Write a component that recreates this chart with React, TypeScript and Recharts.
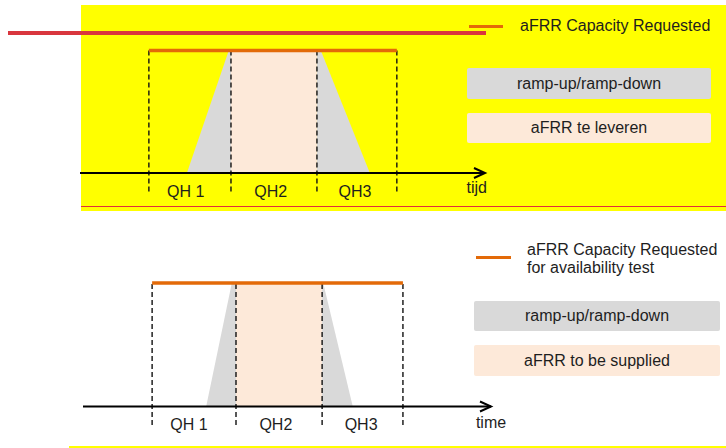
import React from 'react';
import { ComposedChart, Area, Line, XAxis, YAxis, ReferenceLine, ReferenceDot } from 'recharts';

const FONT = '"Liberation Sans", Arial, Helvetica, sans-serif';
const ORANGE = '#E36A08';
const GRAY = '#D9D9D9';
const PINK = '#FDE9D9';
const TEXT = '#1e1e1e';

// ---- top panel (Dutch) : time in minutes, power in % of requested capacity
const topBoundaries = [0, 14.9, 30.5, 45];
const topCapacity = [{ t: 0, v: 100 }, { t: 45, v: 100 }];
const topRampUp = [{ t: 6.9, v: 0 }, { t: 14.5, v: 100 }, { t: 14.9, v: 100 }];
const topDelivery = [{ t: 14.9, v: 100 }, { t: 30.5, v: 100 }];
const topRampDown = [{ t: 30.5, v: 100 }, { t: 31.2, v: 100 }, { t: 40.1, v: 0 }];
const topTickLabels = ['QH 1', 'QH2', 'QH3'];
const topTickPos = [6.7, 22.1, 37.4];
const topAxisTitle = 'tijd';
const topLegend = ['aFRR Capacity Requested', 'ramp-up/ramp-down', 'aFRR te leveren'];

// ---- bottom panel (English)
const botBoundaries = [0, 15.05, 30.5, 45];
const botCapacity = [{ t: 0, v: 100 }, { t: 45, v: 100 }];
const botRampUp = [{ t: 9.7, v: 0 }, { t: 14.3, v: 100 }, { t: 15.05, v: 100 }];
const botDelivery = [{ t: 15.05, v: 100 }, { t: 30.5, v: 100 }];
const botRampDown = [{ t: 30.5, v: 100 }, { t: 30.7, v: 100 }, { t: 36.0, v: 0 }];
const botTickLabels = ['QH 1', 'QH2', 'QH3'];
const botTickPos = [6.6, 22.2, 37.5];
const botAxisTitle = 'time';
const botLegend = ['aFRR Capacity Requested', 'for availability test', 'ramp-up/ramp-down', 'aFRR to be supplied'];

const Y_DOMAIN: [number, number] = [-20, 104];

const Arrow = (p: any) => (
  <path
    d={`M${p.cx - 11},${p.cy - 5} L${p.cx},${p.cy} L${p.cx - 11},${p.cy + 5}`}
    fill="none"
    stroke="#000"
    strokeWidth={2}
  />
);

type PanelProps = {
  margin: { top: number; right: number; bottom: number; left: number };
  xDomain: [number, number];
  boundaries: number[];
  capacity: { t: number; v: number }[];
  rampUp: { t: number; v: number }[];
  delivery: { t: number; v: number }[];
  rampDown: { t: number; v: number }[];
  tickLabels: string[];
  tickPos: number[];
  tickY: number;
  axisTitle: string;
  axisTitleX: number;
  axisTitleY: number;
};

function Panel(p: PanelProps) {
  return (
    <ComposedChart width={726} height={224} margin={p.margin} style={{ fontFamily: FONT }}>
      <XAxis type="number" dataKey="t" domain={p.xDomain} allowDataOverflow hide />
      <YAxis type="number" dataKey="v" domain={Y_DOMAIN} allowDataOverflow hide />
      <Area data={p.rampUp} dataKey="v" type="linear" stroke="none" fill={GRAY} fillOpacity={1} baseValue={0} isAnimationActive={false} dot={false} activeDot={false} />
      <Area data={p.delivery} dataKey="v" type="linear" stroke="none" fill={PINK} fillOpacity={1} baseValue={0} isAnimationActive={false} dot={false} activeDot={false} />
      <Area data={p.rampDown} dataKey="v" type="linear" stroke="none" fill={GRAY} fillOpacity={1} baseValue={0} isAnimationActive={false} dot={false} activeDot={false} />
      {p.boundaries.map((b) => (
        <ReferenceLine
          key={b}
          segment={[{ x: b, y: -15 }, { x: b, y: 100 }]}
          stroke="#111"
          strokeWidth={1.4}
          strokeDasharray="5 3"
        />
      ))}
      <ReferenceLine y={0} stroke="#000" strokeWidth={2} />
      <ReferenceDot x={p.xDomain[1]} y={0} shape={Arrow} />
      <Line data={p.capacity} dataKey="v" type="linear" stroke={ORANGE} strokeWidth={3.5} dot={false} activeDot={false} isAnimationActive={false} />
      {p.tickLabels.map((l, i) => (
        <ReferenceDot
          key={l}
          x={p.tickPos[i]}
          y={p.tickY}
          r={0}
          fill="none"
          stroke="none"
          label={{ value: l, position: 'center', fill: TEXT, fontSize: 16, fontFamily: FONT }}
        />
      ))}
      <ReferenceDot
        x={p.axisTitleX}
        y={p.axisTitleY}
        r={0}
        fill="none"
        stroke="none"
        label={{ value: p.axisTitle, position: 'center', fill: TEXT, fontSize: 16, fontFamily: FONT }}
      />
    </ComposedChart>
  );
}

const abs = (s: React.CSSProperties): React.CSSProperties => ({ position: 'absolute', ...s });

const boxText: React.CSSProperties = {
  display: 'flex',
  alignItems: 'center',
  justifyContent: 'center',
  fontSize: 16,
  color: TEXT,
  borderRadius: 2,
};

export default function App() {
  return (
    <div style={abs({ left: 0, top: 0, width: 726, height: 448, background: '#fff', overflow: 'hidden', fontFamily: FONT })}>
      {/* top panel background */}
      <div style={abs({ left: 81, top: 5, width: 645, height: 206, background: '#FFFF00' })} />
      <div style={abs({ left: 81, top: 206, width: 645, height: 1, background: '#E0303A' })} />
      <div style={abs({ left: 69, top: 446, width: 657, height: 2, background: '#FFFF00' })} />

      <div style={abs({ left: 0, top: 0 })}>
        <Panel
          margin={{ top: 45.6, right: 241, bottom: 26.5, left: 80 }}
          xDomain={[-12.5, 61]}
          boundaries={topBoundaries}
          capacity={topCapacity}
          rampUp={topRampUp}
          delivery={topDelivery}
          rampDown={topRampDown}
          tickLabels={topTickLabels}
          tickPos={topTickPos}
          tickY={-14.7}
          axisTitle={topAxisTitle}
          axisTitleX={59.5}
          axisTitleY={-11.7}
        />
      </div>
      <div style={abs({ left: 8, top: 31, width: 478, height: 4, background: '#D9363E' })} />

      {/* top legend */}
      <div style={abs({ left: 469, top: 24.5, width: 34, height: 3.5, background: ORANGE })} />
      <div style={abs({ left: 520, top: 18, fontSize: 16, lineHeight: '16px', color: TEXT, whiteSpace: 'nowrap' })}>{topLegend[0]}</div>
      <div style={abs({ ...boxText, left: 467, top: 68, width: 244, height: 31, background: GRAY })}>{topLegend[1]}</div>
      <div style={abs({ ...boxText, left: 467, top: 113, width: 244, height: 30, background: PINK })}>{topLegend[2]}</div>

      <div style={abs({ left: 0, top: 224 })}>
        <Panel
          margin={{ top: 54.1, right: 235, bottom: 16.8, left: 83 }}
          xDomain={[-12.4, 60.8]}
          boundaries={botBoundaries}
          capacity={botCapacity}
          rampUp={botRampUp}
          delivery={botDelivery}
          rampDown={botRampDown}
          tickLabels={botTickLabels}
          tickPos={botTickPos}
          tickY={-14.2}
          axisTitle={botAxisTitle}
          axisTitleX={60.8}
          axisTitleY={-12.6}
        />
      </div>

      {/* bottom legend */}
      <div style={abs({ left: 476, top: 255.5, width: 35, height: 3.5, background: ORANGE })} />
      <div style={abs({ left: 527, top: 241, fontSize: 16, lineHeight: '17.5px', color: TEXT, whiteSpace: 'nowrap' })}>
        {botLegend[0]}
        <br />
        {botLegend[1]}
      </div>
      <div style={abs({ ...boxText, left: 474, top: 301, width: 246, height: 30, background: GRAY })}>{botLegend[2]}</div>
      <div style={abs({ ...boxText, left: 474, top: 345, width: 246, height: 31, background: PINK })}>{botLegend[3]}</div>
    </div>
  );
}
